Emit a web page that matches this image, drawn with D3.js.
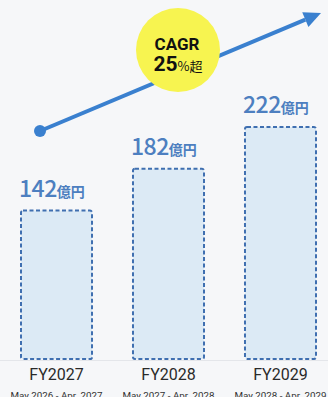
<!DOCTYPE html>
<html><head><meta charset="utf-8">
<script src="https://cdn.jsdelivr.net/npm/d3@7"></script>
<style>html,body{margin:0;padding:0;background:#f6f7f9;}svg{display:block;}</style>
</head><body><div id="chart"></div>
<script>
const categories = ["FY2027", "FY2028", "FY2029"];
const periods = ["May 2026 - Apr. 2027", "May 2027 - Apr. 2028", "May 2028 - Apr. 2029"];
const values = [142, 182, 222];
const unit = "億円";
const cagrTitle = "CAGR";
const cagrValue = "25";
const cagrSuffix = "%超";

const W = 328, H = 397;
const svg = d3.select("#chart").append("svg").attr("width", W).attr("height", H);
svg.append("rect").attr("width", W).attr("height", H).attr("fill", "#f6f7f9");

const x = d3.scaleBand().domain(categories).range([8.8, 328.2]).paddingInner(0.348).paddingOuter(0.1);
const y = d3.scaleLinear().domain([0, 222]).range([359, 127]);

// baseline
svg.append("line").attr("x1", 0).attr("x2", W).attr("y1", 360.5).attr("y2", 360.5)
  .attr("stroke", "#e4e6ea").attr("stroke-width", 1);

// bars
svg.selectAll("rect.bar").data(values).enter().append("rect").attr("class", "bar")
  .attr("x", (d, i) => x(categories[i]) + 1)
  .attr("y", d => y(d))
  .attr("width", x.bandwidth() - 2)
  .attr("height", d => y(0) - y(d))
  .attr("rx", 2)
  .attr("fill", "#dceaf5")
  .attr("stroke", "#3f6fb0")
  .attr("stroke-width", 2)
  .attr("stroke-dasharray", "4,2.5");

// value labels
const lab = svg.selectAll("text.val").data(values).enter().append("text").attr("class", "val")
  .attr("x", (d, i) => x(categories[i]) - 1)
  .attr("y", d => y(d) - 14)
  .attr("fill", "#4d7fc0")
  .attr("font-family", "'Noto Sans CJK JP', 'Noto Sans', sans-serif");
lab.append("tspan").attr("font-size", 23).attr("font-weight", 500).attr("letter-spacing", -0.5).text(d => d);
lab.append("tspan").attr("font-size", 14).attr("font-weight", 700).text(unit);

// axis labels
const xa = svg.append("g");
xa.selectAll("text.cat").data(categories).enter().append("text")
  .attr("x", d => x(d) + x.bandwidth() / 2).attr("y", 380)
  .attr("text-anchor", "middle").attr("font-size", 16)
  .attr("font-family", "Roboto, 'Noto Sans', sans-serif").attr("fill", "#2a2a2a").text(d => d);
xa.selectAll("text.per").data(periods).enter().append("text")
  .attr("x", (d, i) => x(categories[i]) + x.bandwidth() / 2).attr("y", 399)
  .attr("text-anchor", "middle").attr("font-size", 9.8)
  .attr("font-family", "Roboto, 'Noto Sans', sans-serif").attr("fill", "#333").text(d => d);

// growth arrow
const ax0 = 40, ay0 = 131, ax1 = 321, ay1 = 13;
const ang = Math.atan2(ay1 - ay0, ax1 - ax0);
const headLen = 17, headW = 8;
const bx = ax1 - headLen * Math.cos(ang), by = ay1 - headLen * Math.sin(ang);
svg.append("line").attr("x1", ax0).attr("y1", ay0).attr("x2", bx).attr("y2", by)
  .attr("stroke", "#3a80cf").attr("stroke-width", 4);
svg.append("path").attr("fill", "#3a80cf")
  .attr("d", `M${ax1},${ay1} L${bx + headW * Math.sin(ang)},${by - headW * Math.cos(ang)} L${bx - headW * Math.sin(ang)},${by + headW * Math.cos(ang)} Z`);
svg.append("circle").attr("cx", ax0).attr("cy", ay0).attr("r", 6).attr("fill", "#3a80cf");

// CAGR badge
svg.append("circle").attr("cx", 178).attr("cy", 50).attr("r", 42).attr("fill", "#f7f450");
svg.append("text").attr("x", 177).attr("y", 50).attr("text-anchor", "middle")
  .attr("font-size", 17).attr("font-weight", 700).attr("fill", "#111")
  .attr("font-family", "Roboto, 'Noto Sans', sans-serif").text(cagrTitle);
const ct = svg.append("text").attr("x", 178).attr("y", 71).attr("text-anchor", "middle")
  .attr("fill", "#111").attr("font-family", "Roboto, 'Noto Sans CJK JP', sans-serif");
ct.append("tspan").attr("font-size", 21).attr("font-weight", 700).text(cagrValue);
ct.append("tspan").attr("font-size", 13).attr("font-family", "'Noto Sans CJK JP', sans-serif").text(cagrSuffix);
</script></body></html>
